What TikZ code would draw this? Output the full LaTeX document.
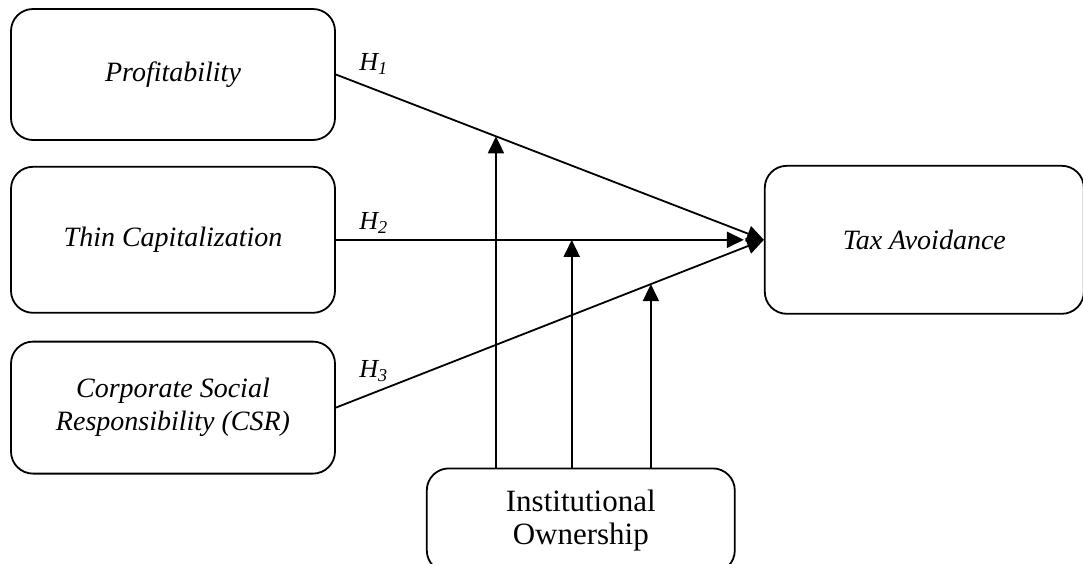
\documentclass[tikz,border=0pt]{standalone}
\usepackage{fontspec}
\setmainfont{Liberation Serif}
\usetikzlibrary{positioning, arrows.meta}
\tikzset{
block/.style={
  draw, 
  rectangle, 
  rounded corners=11pt, 
  line width=0.9pt, 
  minimum width=162pt, align=center, 
  font=\fontsize{14}{16.5}\selectfont\itshape
  }, 
hyp/.style={
  inner sep=0pt, 
  font=\fontsize{13}{15}\selectfont\itshape
  }, 
line/.style={-{Triangle[length=8.5pt,width=8pt]}, line width=0.9pt}
}

\begin{document}
\begin{tikzpicture}
\useasboundingbox (0,0) rectangle (541.5pt,-281.5pt);

\node[block, minimum height=65.5pt]		(prof)	at (86.5pt,-37.25pt)					{Profitability};
\node[block, minimum height=73pt]		(thin)	[below=12.5pt of prof]					{Thin Capitalization};
\node[block, minimum height=66pt]		(csr)	[below=13.5pt of thin]					{Corporate Social \\ Responsibility (CSR)};
\node[block, minimum width=159.5pt, minimum height=74pt]	(tax)	[right=214pt of thin]	{Tax Avoidance};
\node[block, minimum width=154pt, minimum height=52pt, font=\fontsize{15.5}{16.5}\selectfont]	(inst)	[below right=-3.5pt and 45pt of csr]	{Institutional \\ Ownership};

\node[hyp]	(h1)	[above right=0pt and 11.5pt of prof.east]	{H\textsubscript{1}};
\node[hyp]	(h2)	[above right=3pt and 11.5pt of thin.east]	{H\textsubscript{2}};
\node[hyp]	(h3)	[above right=13pt and 11.5pt of csr.east]	{H\textsubscript{3}};

\draw[line] (prof.east) -- coordinate[pos=0.374] (m1) (tax.west);
\draw[line, shorten >=10pt] (thin.east) -- coordinate[pos=0.551] (m2) (tax.west);
\draw[line] (csr.east) -- coordinate[pos=0.736] (m3) (tax.west);
\draw[line] (m1 |- inst.north) -- (m1);
\draw[line] (m2 |- inst.north) -- (m2);
\draw[line] (m3 |- inst.north) -- (m3);
\end{tikzpicture}
\end{document}
